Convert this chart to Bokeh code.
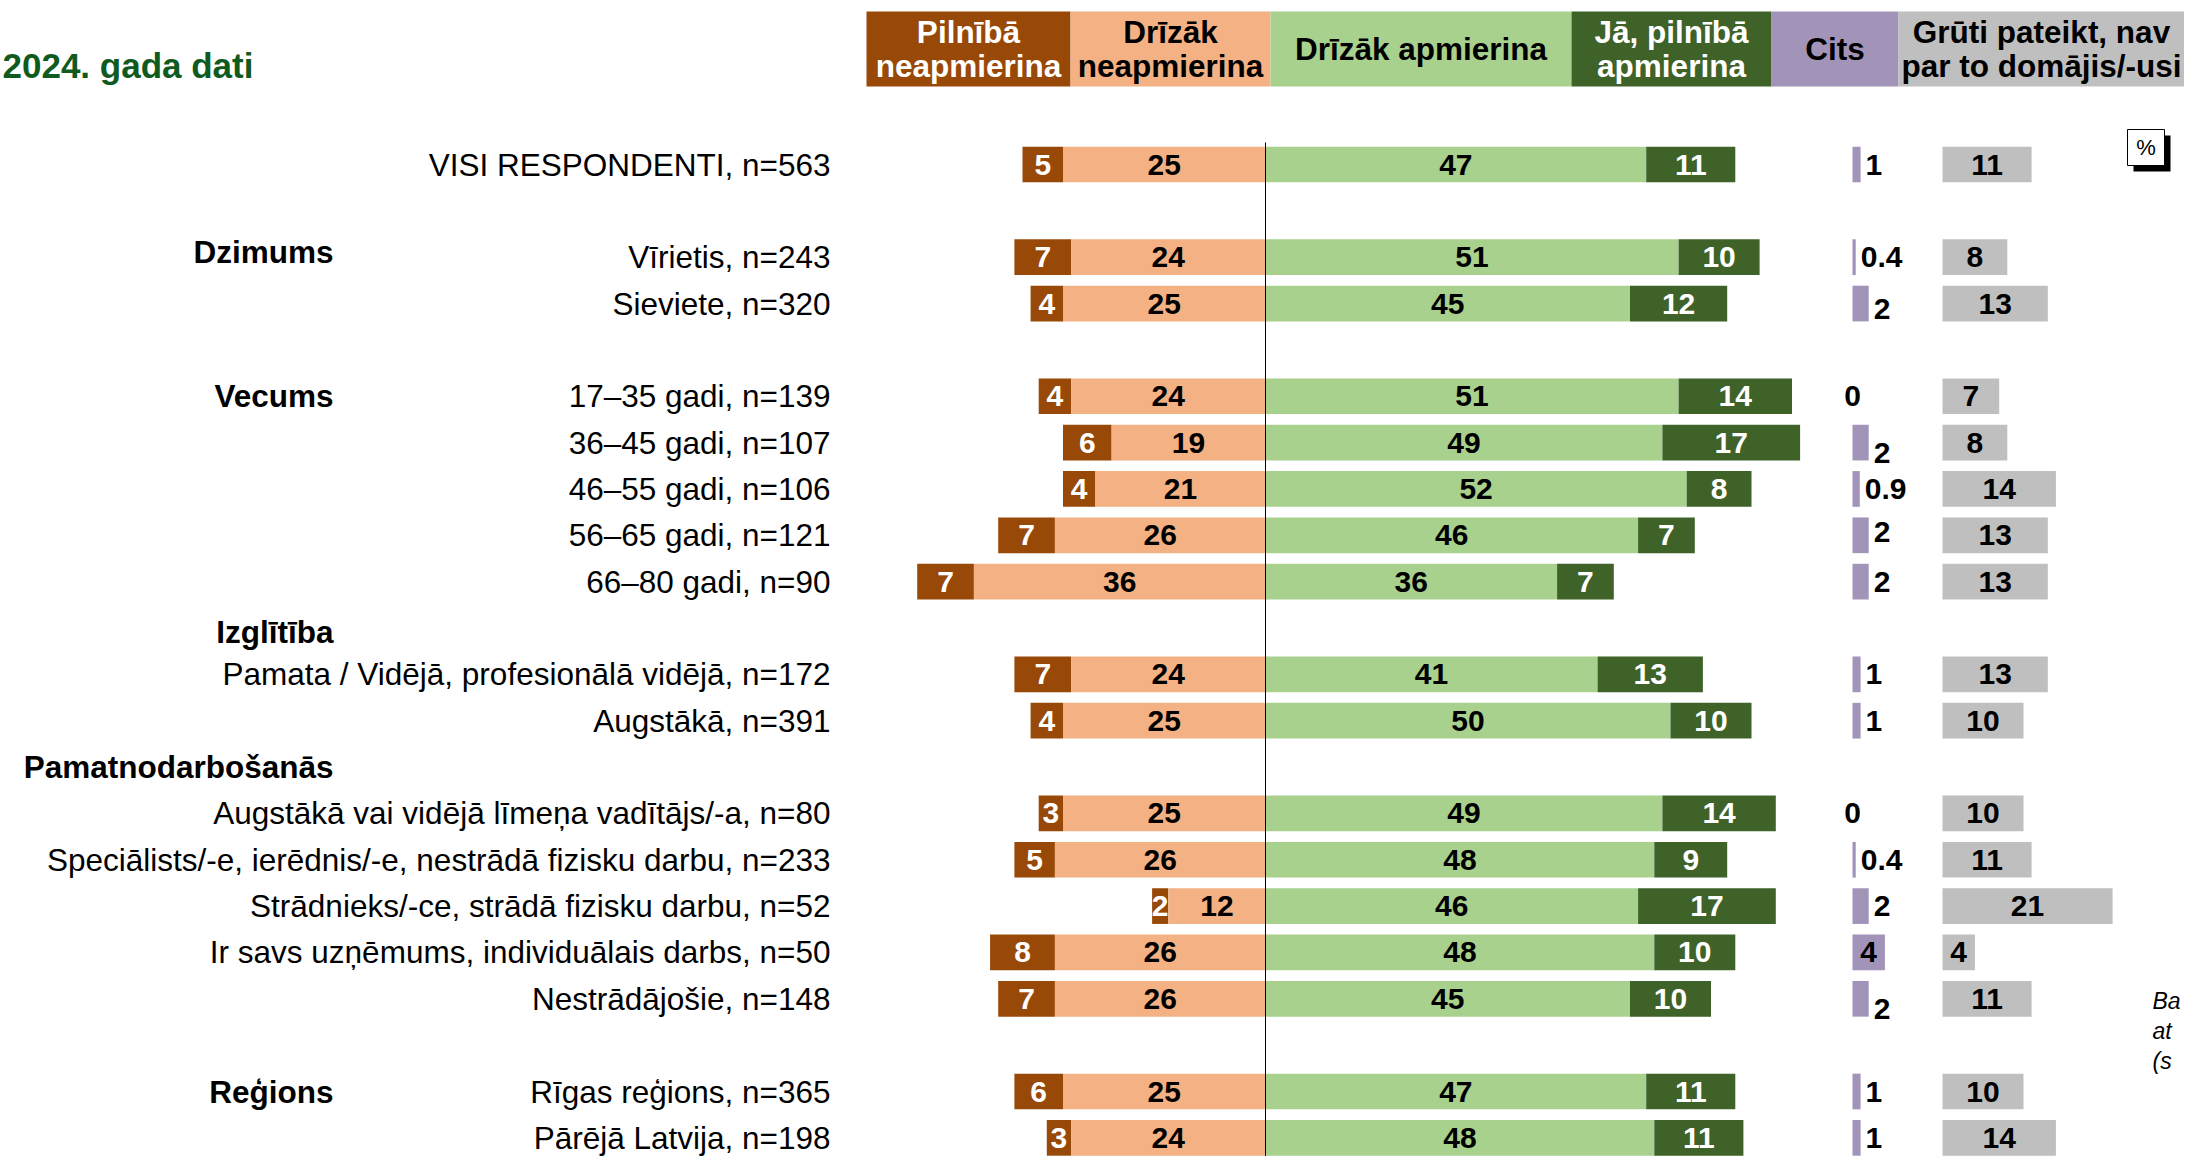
from bokeh.plotting import figure
from bokeh.models import Range1d, ColumnDataSource
from bokeh.core.properties import value
from bokeh.embed import file_html
from bokeh.resources import INLINE

# ---------------- data ----------------
title = "2024. gada dati"
header_lines = [
    ["Pilnībā", "neapmierina"],
    ["Drīzāk", "neapmierina"],
    ["Drīzāk apmierina"],
    ["Jā, pilnībā", "apmierina"],
    ["Cits"],
    ["Grūti pateikt, nav", "par to domājis/-usi"],
]
groups = ["", "Dzimums", "Vecums", "Izglītība", "Pamatnodarbošanās", "Reģions"]
group_sizes = [1, 2, 5, 2, 5, 2]
categories = [
    "VISI RESPONDENTI, n=563",
    "Vīrietis, n=243",
    "Sieviete, n=320",
    "17–35 gadi, n=139",
    "36–45 gadi, n=107",
    "46–55 gadi, n=106",
    "56–65 gadi, n=121",
    "66–80 gadi, n=90",
    "Pamata / Vidējā, profesionālā vidējā, n=172",
    "Augstākā, n=391",
    "Augstākā vai vidējā līmeņa vadītājs/-a, n=80",
    "Speciālists/-e, ierēdnis/-e, nestrādā fizisku darbu, n=233",
    "Strādnieks/-ce, strādā fizisku darbu, n=52",
    "Ir savs uzņēmums, individuālais darbs, n=50",
    "Nestrādājošie, n=148",
    "Rīgas reģions, n=365",
    "Pārējā Latvija, n=198",
]
pilniba_neapm = [5, 7, 4, 4, 6, 4, 7, 7, 7, 4, 3, 5, 2, 8, 7, 6, 3]
drizak_neapm = [25, 24, 25, 24, 19, 21, 26, 36, 24, 25, 25, 26, 12, 26, 26, 25, 24]
drizak_apm = [47, 51, 45, 51, 49, 52, 46, 36, 41, 50, 49, 48, 46, 48, 45, 47, 48]
ja_apm = [11, 10, 12, 14, 17, 8, 7, 7, 13, 10, 14, 9, 17, 10, 10, 11, 11]
cits = [1, 0.4, 2, 0, 2, 0.9, 2, 2, 1, 1, 0, 0.4, 2, 4, 2, 1, 1]
gruti = [11, 8, 13, 7, 8, 14, 13, 13, 13, 10, 10, 11, 21, 4, 11, 10, 14]
side_note = ["Ba", "at", "(s"]

# ---------------- styling / layout ----------------
C_BROWN = "#984807"
C_PEACH = "#F4B183"
C_LGREEN = "#A9D18E"
C_DGREEN = "#3F6229"
C_LAV = "#A294B9"
C_GREY = "#BFBFBF"
C_TITLE = "#0F5A1F"
FONT = value("Liberation Sans")

W, H = 2184, 1156               # figure size in px
X0_PX, SCALE = 1265.0, 8.1      # px of zero, px per percent
Y0_PX, STEP = 164.0, 46.35      # px of first row, px per row slot


def px_x(px):
    return (px - X0_PX) / SCALE


def px_y(py):
    return (py - Y0_PX) / STEP


CITS0 = px_x(1852)
GRUTI0 = px_x(1942)
BAR_H = 0.77

p = figure(width=W, height=H,
           x_range=Range1d(px_x(0), px_x(W)),
           y_range=Range1d(px_y(H), px_y(0)),
           output_backend="svg", toolbar_location=None,
           x_axis_location=None, y_axis_location=None,
           min_border=0, outline_line_color=None,
           background_fill_color="white", border_fill_color="white")
p.grid.visible = False

# row slots derived from the group structure
slots, group_first = [], []
s = 0
for gi, n in enumerate(group_sizes):
    if gi > 0:
        s += 1
    group_first.append(s)
    for k in range(n):
        slots.append(s + k)
    s += n


def fmt(v):
    return str(int(v)) if float(v).is_integer() else str(v)


# ---------------- header ----------------
edges_px = [866, 1070, 1270, 1571, 1771, 1898, W]
hcolors = [C_BROWN, C_PEACH, C_LGREEN, C_DGREEN, C_LAV, C_GREY]
htext = ["white", "black", "black", "white", "black", "black"]
p.quad(left=[px_x(a) for a in edges_px[:-1]], right=[px_x(b) for b in edges_px[1:]],
       top=[px_y(11)] * 6, bottom=[px_y(86)] * 6, fill_color=hcolors, line_color=None)
hx, hy, ht, hc = [], [], [], []
for i, lines in enumerate(header_lines):
    cx = px_x((edges_px[i] + edges_px[i + 1]) / 2)
    ys = [48.5] if len(lines) == 1 else [31.5, 65.5]
    for ln, yy in zip(lines, ys):
        hx.append(cx); hy.append(px_y(yy)); ht.append(ln); hc.append(htext[i])
p.text(x="x", y="y", text="t", text_color="c",
       source=ColumnDataSource(dict(x=hx, y=hy, t=ht, c=hc)),
       text_font=FONT, text_font_style="bold", text_font_size="31.5px",
       text_align="center", text_baseline="middle")

# title
p.text(x=[px_x(2)], y=[px_y(65)], text=[title], text_font=FONT, text_font_style="bold",
       text_font_size="35px", text_color=C_TITLE, text_align="left", text_baseline="middle")

# ---------------- diverging bars ----------------
pn = pilniba_neapm; dn = drizak_neapm; da = drizak_apm; ja = ja_apm
src = ColumnDataSource(dict(
    y=slots,
    pn_l=[-(a + b) for a, b in zip(pn, dn)], pn_r=[-b for b in dn],
    dn_l=[-b for b in dn], zero=[0] * len(dn),
    da_r=da, ja_r=[a + b for a, b in zip(da, ja)],
))
p.hbar(y="y", left="pn_l", right="pn_r", height=BAR_H, fill_color=C_BROWN, line_color=None, source=src)
p.hbar(y="y", left="dn_l", right="zero", height=BAR_H, fill_color=C_PEACH, line_color=None, source=src)
p.hbar(y="y", left="zero", right="da_r", height=BAR_H, fill_color=C_LGREEN, line_color=None, source=src)
p.hbar(y="y", left="da_r", right="ja_r", height=BAR_H, fill_color=C_DGREEN, line_color=None, source=src)

# centre line
p.segment(x0=[0], y0=[px_y(142)], x1=[0], y1=[px_y(H)], line_color="black", line_width=1)

lx, ly, lt, lc = [], [], [], []
for i, yv in enumerate(slots):
    segs = [(-(dn[i] + pn[i] / 2), pn[i], "white"),
            (-dn[i] / 2, dn[i], "black"),
            (da[i] / 2, da[i], "black"),
            (da[i] + ja[i] / 2, ja[i], "white")]
    for cx, v, col in segs:
        lx.append(cx); ly.append(yv); lt.append(fmt(v)); lc.append(col)
p.text(x="x", y="y", text="t", text_color="c",
       source=ColumnDataSource(dict(x=lx, y=ly, t=lt, c=lc)),
       text_font=FONT, text_font_style="bold", text_font_size="30px",
       text_align="center", text_baseline="middle")

# ---------------- Cits ----------------
p.hbar(y=slots, left=[CITS0] * len(cits), right=[CITS0 + v for v in cits],
       height=BAR_H, fill_color=C_LAV, line_color=None)
cits_dy = {2: 5, 4: 10, 6: -3, 14: 10}
cx_, cy_, ct_, ca_ = [], [], [], []
for i, v in enumerate(cits):
    yy = slots[i] + cits_dy.get(i, 0) / STEP
    if v == 0:
        cx_.append(CITS0); ca_.append("center")
    elif v >= 3:
        cx_.append(CITS0 + v / 2); ca_.append("center")
    else:
        cx_.append(CITS0 + v + 5 / SCALE); ca_.append("left")
    cy_.append(yy); ct_.append(fmt(v))
p.text(x="x", y="y", text="t", text_align="a",
       source=ColumnDataSource(dict(x=cx_, y=cy_, t=ct_, a=ca_)),
       text_font=FONT, text_font_style="bold", text_font_size="30px",
       text_color="black", text_baseline="middle")

# ---------------- Grūti pateikt ----------------
p.hbar(y=slots, left=[GRUTI0] * len(gruti), right=[GRUTI0 + v for v in gruti],
       height=BAR_H, fill_color=C_GREY, line_color=None)
p.text(x=[GRUTI0 + v / 2 for v in gruti], y=slots, text=[fmt(v) for v in gruti],
       text_font=FONT, text_font_style="bold", text_font_size="30px",
       text_color="black", text_align="center", text_baseline="middle")

# ---------------- row + group labels ----------------
p.text(x=[px_x(830)] * len(categories), y=slots, text=categories,
       text_font=FONT, text_font_size="31.5px", text_color="black",
       text_align="right", text_baseline="middle")
gx, gy, gt = [], [], []
on_gap = [False, False, False, True, True, False]
g_dy = [0, -5, 0, 4, 0, 0]
for gi, g in enumerate(groups):
    if not g:
        continue
    base = group_first[gi] - (1 if on_gap[gi] else 0)
    gx.append(px_x(333)); gy.append(base + g_dy[gi] / STEP); gt.append(g)
p.text(x=gx, y=gy, text=gt, text_font=FONT, text_font_style="bold",
       text_font_size="31.5px", text_color="black", text_align="right", text_baseline="middle")

# ---------------- % badge ----------------
p.quad(left=[px_x(2133)], right=[px_x(2170)], top=[px_y(135)], bottom=[px_y(171)],
       fill_color="black", line_color=None)
p.quad(left=[px_x(2127)], right=[px_x(2164)], top=[px_y(129)], bottom=[px_y(165)],
       fill_color="white", line_color="black", line_width=1)
p.text(x=[px_x(2145.5)], y=[px_y(147)], text=["%"], text_font=FONT, text_font_size="22px",
       text_color="black", text_align="center", text_baseline="middle")

# ---------------- side note (at the right edge) ----------------
p.text(x=[px_x(2152)] * 3, y=[px_y(1000), px_y(1030), px_y(1060)], text=side_note,
       text_font=FONT, text_font_style="italic", text_font_size="23px",
       text_color="black", text_align="left", text_baseline="middle")

open("out.html", "w").write(file_html(p, INLINE))
